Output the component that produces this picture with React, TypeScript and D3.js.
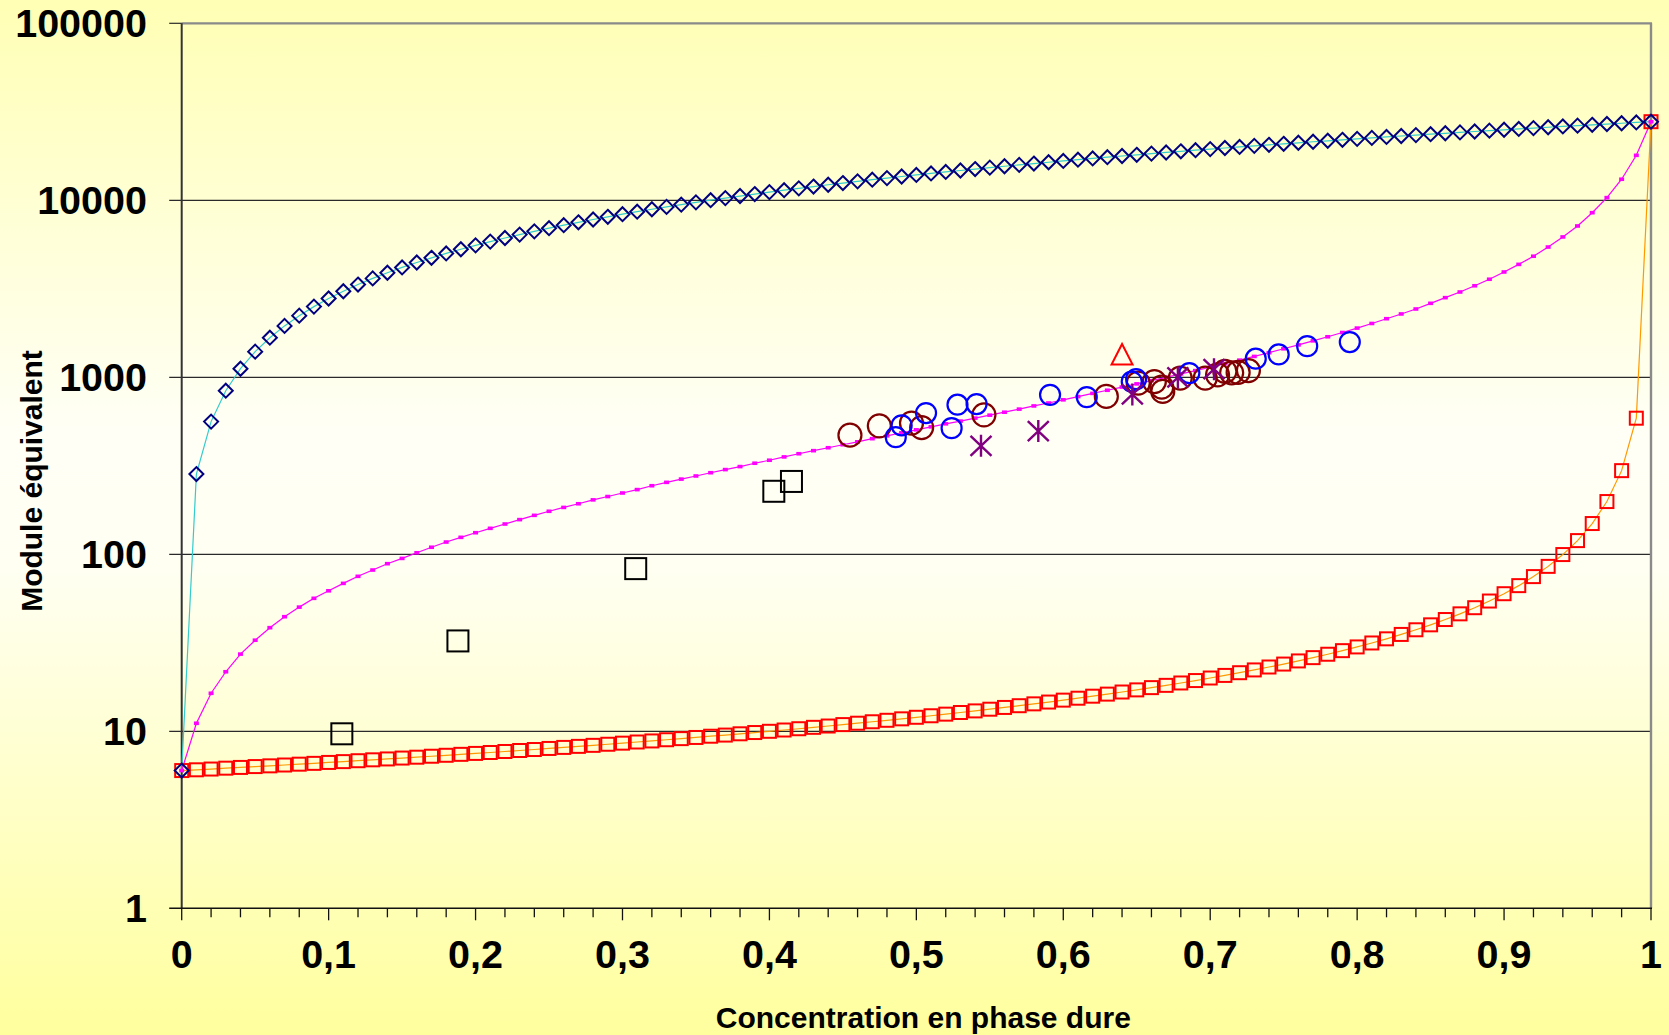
import React from 'react';
import * as d3 from 'd3';

const W = 1669;
const H = 1035;

// concentration grid of the model curves (step 0.01)
const conc = d3.range(0, 101).map((i) => i / 100);

// Upper bound (diamonds, cyan line)
const upperBound = [
  6, 284, 562, 840, 1118, 1396, 1674, 1952, 2230, 2508, 2786, 3064, 3342, 3620, 3898, 4176, 4454, 4732, 5010, 5288,
  5566, 5844, 6122, 6400, 6678, 6956, 7234, 7512, 7790, 8068, 8346, 8624, 8902, 9180, 9458, 9736, 10014, 10292, 10570, 10848,
  11126, 11404, 11682, 11960, 12238, 12516, 12794, 13072, 13350, 13628, 13906, 14184, 14462, 14740, 15018, 15296, 15574, 15852, 16130, 16408,
  16686, 16964, 17242, 17520, 17798, 18076, 18354, 18632, 18910, 19188, 19466, 19744, 20022, 20300, 20578, 20856, 21134, 21412, 21690, 21968,
  22246, 22524, 22802, 23080, 23358, 23636, 23914, 24192, 24470, 24748, 25026, 25304, 25582, 25860, 26138, 26416, 26694, 26972, 27250, 27528,
  27806,
];

// Lower bound (red squares, orange line)
const lowerBound = [
  6.0, 6.06, 6.12, 6.19, 6.25, 6.32, 6.38, 6.45, 6.52, 6.59, 6.67, 6.74, 6.82, 6.9, 6.98, 7.06, 7.14, 7.23, 7.32, 7.41,
  7.5, 7.59, 7.69, 7.79, 7.89, 8.0, 8.11, 8.22, 8.33, 8.45, 8.57, 8.7, 8.82, 8.96, 9.09, 9.23, 9.38, 9.52, 9.68, 9.84,
  10.0, 10.17, 10.34, 10.53, 10.71, 10.91, 11.11, 11.32, 11.54, 11.76, 12.0, 12.24, 12.5, 12.77, 13.04, 13.33, 13.64, 13.95, 14.29, 14.63,
  15.0, 15.38, 15.79, 16.22, 16.67, 17.14, 17.65, 18.18, 18.75, 19.35, 20.0, 20.69, 21.43, 22.22, 23.08, 23.98, 24.98, 26.07, 27.25, 28.55,
  29.97, 31.55, 33.3, 35.26, 37.46, 39.95, 42.8, 46.09, 49.92, 54.45, 59.88, 66.52, 74.81, 85.47, 99.66, 119.5, 149.2, 198.6, 296.9, 587.4,
  27800,
];

// Intermediate model (magenta small squares)
const modelCurve = [
  6, 11.1, 16.4, 21.7, 27.3, 32.7, 38.5, 44.4, 50.3, 56.4, 62.2, 68.5, 75.1, 81.5, 88.5, 94.8, 102, 109.6, 117.3, 124.7,
  132.4, 140.2, 148.3, 157, 166, 175, 184, 193, 203, 212, 222, 232, 244, 255, 266, 277, 289, 301, 313, 327,
  340, 355, 370, 385, 400, 416, 432, 450, 467, 486, 505, 525, 546, 566, 588, 611, 635, 661, 689, 716,
  746, 778, 811, 845, 881, 918, 957, 1000, 1045, 1091, 1140, 1194, 1250, 1312, 1377, 1449, 1524, 1607, 1694, 1791,
  1897, 2014, 2143, 2280, 2432, 2618, 2818, 3034, 3289, 3581, 3936, 4345, 4831, 5445, 6209, 7161, 8511, 10351, 13152, 17947,
  27800,
];

// Experimental data
const blackSquaresX = [0.109, 0.188, 0.309, 0.403, 0.415];
const blackSquaresY = [9.68, 32.4, 83, 227, 258];

const blueCirclesX = [0.486, 0.49, 0.5066, 0.524, 0.528, 0.541, 0.591, 0.616, 0.6466, 0.6496, 0.6858, 0.731, 0.7466, 0.766, 0.795];
const blueCirclesY = [459, 535, 628, 516, 700, 706, 796, 773, 946, 977, 1057, 1274, 1346, 1500, 1582];

const darkRedCirclesX = [0.4548, 0.4748, 0.4967, 0.5036, 0.546, 0.6293, 0.651, 0.662, 0.667, 0.6677, 0.6796, 0.6966, 0.705, 0.71, 0.7146, 0.719, 0.726];
const darkRedCirclesY = [471, 532, 551, 520, 614, 780, 927, 946, 880, 832, 989, 989, 1033, 1079, 1060, 1066, 1091];

const asteriskX = [0.544, 0.583, 0.647, 0.678, 0.7026];
const asteriskY = [410, 497, 800, 998, 1112];

const triangleX = [0.64];
const triangleY = [1346];

const xTickValues = [0, 0.1, 0.2, 0.3, 0.4, 0.5, 0.6, 0.7, 0.8, 0.9, 1];
const xTickLabels = ['0', '0,1', '0,2', '0,3', '0,4', '0,5', '0,6', '0,7', '0,8', '0,9', '1'];
const yTickValues = [1, 10, 100, 1000, 10000, 100000];
const yTickLabels = ['1', '10', '100', '1000', '10000', '100000'];

const FONT = '"Liberation Sans", Arial, Helvetica, sans-serif';

export default function App() {
  const x = d3.scaleLinear().domain([0, 1]).range([181.7, 1651]);
  const y = d3.scaleLog().domain([1, 100000]).range([908.3, 23.3]);
  const [x0, x1] = x.range();
  const [yb, yt] = y.range();

  const line = (vals: number[]) =>
    d3
      .line<number>()
      .x((_, i) => x(conc[i]))
      .y((v) => y(v))(vals) as string;

  const minorTicks = d3.range(0, 51).map((i) => i / 50);

  const diamond = (cx: number, cy: number, r: number) =>
    `M${cx},${cy - r}L${cx + r},${cy}L${cx},${cy + r}L${cx - r},${cy}Z`;

  return (
    <>
      <style>{`html,body{margin:0;padding:0;overflow:hidden;}`}</style>
      <svg width={W} height={H} style={{ display: 'block', position: 'absolute', left: 0, top: 0 }}>
        <defs>
          <linearGradient id="bg" x1="0" y1="0" x2="0" y2="1">
            <stop offset="0" stopColor="#FFFFB5" />
            <stop offset="0.42" stopColor="#FFFFF6" />
            <stop offset="0.55" stopColor="#FFFFF2" />
            <stop offset="1" stopColor="#FFFF9E" />
          </linearGradient>
        </defs>
        <rect x={0} y={0} width={W} height={H} fill="url(#bg)" />

        {/* gridlines */}
        {yTickValues.slice(1, 5).map((v) => (
          <line key={'g' + v} x1={x0 - 12.5} x2={x1} y1={y(v)} y2={y(v)} stroke="#2a2a2a" strokeWidth={1.2} />
        ))}
        {/* top and right frame */}
        <line x1={x0} x2={x1 + 1} y1={yt} y2={yt} stroke="#8a8a8a" strokeWidth={2.2} />
        <line x1={x1} x2={x1} y1={yt} y2={yb} stroke="#8a8a8a" strokeWidth={2.4} />
        {/* y tick at top */}
        <line x1={x0 - 12.5} x2={x0} y1={yt} y2={yt} stroke="#2a2a2a" strokeWidth={1.2} />
        {/* left axis */}
        <line x1={x0} x2={x0} y1={yt} y2={yb} stroke="#333" strokeWidth={2} />
        {/* bottom axis */}
        <line x1={x0 - 12.5} x2={x1 + 1} y1={yb} y2={yb} stroke="#111" strokeWidth={1.4} />
        {minorTicks.map((t, i) => (
          <line
            key={'t' + i}
            x1={x(t)}
            x2={x(t)}
            y1={yb}
            y2={yb + (i % 5 === 0 ? 12 : 9)}
            stroke="#111"
            strokeWidth={1.3}
          />
        ))}

        {/* axis labels */}
        {yTickValues.map((v, i) => (
          <text
            key={'yl' + v}
            x={147}
            y={y(v) + 14}
            textAnchor="end"
            fontFamily={FONT}
            fontWeight="bold"
            fontSize={39.5}
            fill="#000"
          >
            {yTickLabels[i]}
          </text>
        ))}
        {xTickValues.map((v, i) => (
          <text
            key={'xl' + v}
            x={x(v)}
            y={968}
            textAnchor="middle"
            fontFamily={FONT}
            fontWeight="bold"
            fontSize={39.5}
            fill="#000"
          >
            {xTickLabels[i]}
          </text>
        ))}
        <text
          x={(x0 + x1) / 2 + 7}
          y={1028}
          textAnchor="middle"
          fontFamily={FONT}
          fontWeight="bold"
          fontSize={30}
          fill="#000"
        >
          Concentration en phase dure
        </text>
        <text
          transform={`translate(41.5,481) rotate(-90)`}
          textAnchor="middle"
          fontFamily={FONT}
          fontWeight="bold"
          fontSize={30}
          fill="#000"
        >
          Module équivalent
        </text>

        {/* model lines */}
        <path d={line(lowerBound)} fill="none" stroke="#FF9900" strokeWidth={1.2} />
        <path d={line(upperBound)} fill="none" stroke="#33CCCC" strokeWidth={1.2} />
        <path d={line(modelCurve)} fill="none" stroke="#FF00FF" strokeWidth={1.2} />

        {/* lower bound markers */}
        {lowerBound.map((v, i) => (
          <rect
            key={'lb' + i}
            x={x(conc[i]) - 6.5}
            y={y(v) - 6.5}
            width={13}
            height={13}
            fill="none"
            stroke="#FF0000"
            strokeWidth={2}
          />
        ))}
        {/* upper bound markers */}
        {upperBound.map((v, i) => (
          <path key={'ub' + i} d={diamond(x(conc[i]), y(v), 7)} fill="none" stroke="#000080" strokeWidth={2} />
        ))}
        {/* model markers */}
        {modelCurve.map((v, i) => (
          <rect key={'mc' + i} x={x(conc[i]) - 2.5} y={y(v) - 1.8} width={5} height={3.6} fill="#FF00FF" />
        ))}

        {/* experimental points */}
        {blackSquaresX.map((cx, i) => (
          <rect
            key={'bs' + i}
            x={x(cx) - 10.5}
            y={y(blackSquaresY[i]) - 10.5}
            width={21}
            height={21}
            fill="none"
            stroke="#000"
            strokeWidth={2}
          />
        ))}
        {darkRedCirclesX.map((cx, i) => (
          <circle
            key={'dr' + i}
            cx={x(cx)}
            cy={y(darkRedCirclesY[i])}
            r={11.5}
            fill="none"
            stroke="#800000"
            strokeWidth={2.2}
          />
        ))}
        {blueCirclesX.map((cx, i) => (
          <circle
            key={'bc' + i}
            cx={x(cx)}
            cy={y(blueCirclesY[i])}
            r={10}
            fill="none"
            stroke="#0000FF"
            strokeWidth={2.2}
          />
        ))}
        {asteriskX.map((cx, i) => {
          const px = x(cx);
          const py = y(asteriskY[i]);
          return (
            <path
              key={'as' + i}
              d={`M${px},${py - 11}L${px},${py + 11}M${px - 10.5},${py - 10}L${px + 10.5},${py + 10}M${px - 10.5},${py + 10}L${px + 10.5},${py - 10}`}
              fill="none"
              stroke="#800080"
              strokeWidth={2.4}
            />
          );
        })}
        {triangleX.map((cx, i) => {
          const px = x(cx);
          const py = y(triangleY[i]);
          return (
            <path
              key={'tr' + i}
              d={`M${px},${py - 10.5}L${px + 10.5},${py + 10}L${px - 10.5},${py + 10}Z`}
              fill="none"
              stroke="#FF0000"
              strokeWidth={2}
            />
          );
        })}
      </svg>
    </>
  );
}
